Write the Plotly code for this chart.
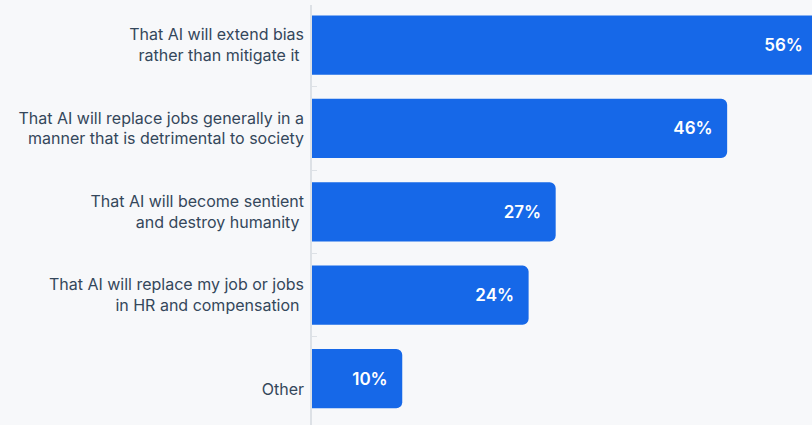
import plotly.graph_objects as go

# Survey answers (top to bottom) and share of respondents, in percent
concerns = [
    "That AI will extend bias<br>rather than mitigate it\u00a0",
    "That AI will replace jobs generally in a<br>manner that is detrimental to society",
    "That AI will become sentient<br>and destroy humanity\u00a0",
    "That AI will replace my job or jobs<br>in HR and compensation\u00a0",
    "\u00a0<br>Other",
]
shares = [56, 46, 27, 24, 10]

BG = "#f7f8fa"
BAR = "#1668e8"
LABEL = "#34475b"
AXIS = "#dde1e6"

fig = go.Figure(
    go.Bar(
        x=shares,
        y=concerns,
        orientation="h",
        marker=dict(color=BAR, line=dict(width=0)),
        texttemplate="%{x}%\u00a0\u00a0",
        textposition="inside",
        insidetextanchor="end",
        textangle=0,
        insidetextfont=dict(family="Inter", size=17, color="white", weight=600),
        hoverinfo="skip",
    )
)

fig.update_layout(
    width=812,
    height=425,
    margin=dict(l=312, r=0, t=5, b=0),
    paper_bgcolor=BG,
    plot_bgcolor=BG,
    bargap=0.29,
    barcornerradius=6,
    showlegend=False,
    font=dict(family="Inter", size=16, color=LABEL),
)

fig.update_xaxes(
    range=[0, 55.4],
    visible=False,
    showgrid=False,
    zeroline=False,
    fixedrange=True,
)

fig.update_yaxes(
    type="category",
    range=[4.556, -0.48],
    showgrid=False,
    zeroline=False,
    showline=True,
    linecolor=AXIS,
    linewidth=1.5,
    ticks="inside",
    tickson="boundaries",
    ticklen=5,
    tickcolor=AXIS,
    tickwidth=1,
    ticklabelstandoff=3,
    tickfont=dict(family="Inter", size=16, color=LABEL),
    fixedrange=True,
)

fig.write_html("out.html", config={"displayModeBar": False})
